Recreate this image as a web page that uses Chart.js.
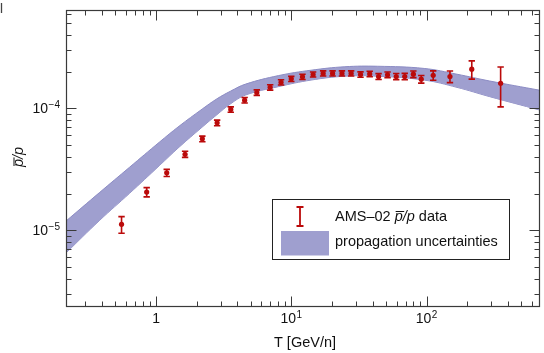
<!DOCTYPE html>
<html>
<head>
<meta charset="utf-8">
<script src="https://cdn.jsdelivr.net/npm/chart.js@4.4.0/dist/chart.umd.min.js"></script>
<style>
  html, body { margin: 0; padding: 0; background: #fff; }
  canvas { display: block; }
</style>
</head>
<body>
<canvas id="myChart" width="544" height="353"></canvas>
<script>
// ------------ data -------------

// AMS-02 antiproton / proton ratio
const energy = [0.556, 0.853, 1.20, 1.64, 2.20, 2.83, 3.57, 4.52, 5.56, 6.98,
  8.40, 10.0, 12.1, 14.5, 17.2, 20.2, 23.7, 27.7, 32.5, 38.0,
  44.2, 51.5, 59.7, 69.0, 79.9, 91.4, 112, 149, 216, 353];
const ratio = [1.12e-5, 2.06e-5, 2.96e-5, 4.21e-5, 5.63e-5, 7.62e-5, 9.81e-5, 1.17e-4, 1.35e-4, 1.49e-4,
  1.64e-4, 1.75e-4, 1.82e-4, 1.90e-4, 1.94e-4, 1.94e-4, 1.94e-4, 1.94e-4, 1.90e-4, 1.92e-4,
  1.83e-4, 1.89e-4, 1.83e-4, 1.83e-4, 1.91e-4, 1.74e-4, 1.87e-4, 1.83e-4, 2.10e-4, 1.61e-4];
const ratioErr = [0.175e-5, 0.18e-5, 0.2e-5, 0.24e-5, 0.3e-5, 0.4e-5, 0.5e-5, 0.6e-5, 0.7e-5, 0.75e-5,
  0.8e-5, 0.85e-5, 0.9e-5, 0.9e-5, 0.95e-5, 0.95e-5, 0.95e-5, 0.95e-5, 0.95e-5, 1.0e-5,
  1.0e-5, 1.0e-5, 1.05e-5, 1.1e-5, 1.2e-5, 1.25e-5, 1.65e-5, 2.0e-5, 3.6e-5, 5.8e-5];

// propagation uncertainty band
const bandEnergy = [0.216, 0.384, 0.637, 1.057, 1.48, 2.19, 2.82, 3.57, 4.60, 8.03, 14.0, 24.9, 43.5, 96.1, 168, 293, 690];
const bandHigh = [1.19e-5, 2.05e-5, 3.29e-5, 5.28e-5, 7.15e-5, 9.87e-5, 1.20e-4, 1.39e-4, 1.585e-4, 1.86e-4, 2.06e-4, 2.20e-4, 2.22e-4, 2.13e-4, 1.91e-4, 1.68e-4, 1.41e-4];
const bandLow = [6.51e-6, 1.21e-5, 2.01e-5, 3.39e-5, 4.81e-5, 7.02e-5, 8.89e-5, 1.095e-4, 1.29e-4, 1.51e-4, 1.71e-4, 1.84e-4, 1.84e-4, 1.71e-4, 1.49e-4, 1.25e-4, 9.69e-5];

// axes
const xMin = 0.216, xMax = 690;
const yMin = 2.39e-6, yMax = 6.43e-4;
const xTicks = [1, 10, 100];
const xTickLabels = [['1', ''], ['10', '1'], ['10', '2']];
const yTicks = [1e-5, 1e-4];
const yTickLabels = [['10', '\u22125'], ['10', '\u22124']];

const RED = '#bb0a0a';
const BAND = '#9f9fcf';
const BAND_EDGE = '#8c8cc4';
const FONT = "'Liberation Sans', Arial, sans-serif";

function minorTicks(lo, hi) {
  var out = [];
  for (var e = Math.floor(Math.log10(lo)); e <= Math.ceil(Math.log10(hi)); e++) {
    for (var m = 1; m <= 9; m++) {
      var v = m * Math.pow(10, e);
      if (v >= lo && v <= hi) out.push({ v: v, major: m == 1 });
    }
  }
  return out;
}

// --------- error bars, drawn just under the points
const errorBars = {
  id: 'errorBars',
  beforeDatasetDraw(chart, args) {
    if (args.index !== 0) return;
    var ctx = chart.ctx, xs = chart.scales.x, ys = chart.scales.y, a = chart.chartArea;
    ctx.save();
    ctx.beginPath();
    ctx.rect(a.left, a.top, a.right - a.left, a.bottom - a.top);
    ctx.clip();
    ctx.strokeStyle = RED;
    ctx.lineWidth = 1.6;
    for (var i = 0; i < energy.length; i++) {
      var px = xs.getPixelForValue(energy[i]);
      var y1 = ys.getPixelForValue(ratio[i] + ratioErr[i]);
      var y2 = ys.getPixelForValue(ratio[i] - ratioErr[i]);
      ctx.beginPath();
      ctx.moveTo(px, y1); ctx.lineTo(px, y2);
      ctx.moveTo(px - 3.2, y1); ctx.lineTo(px + 3.2, y1);
      ctx.moveTo(px - 3.2, y2); ctx.lineTo(px + 3.2, y2);
      ctx.stroke();
    }
    ctx.restore();
  }
};

// --------- frame, inward ticks, labels, titles, legend
function drawPow(ctx, base, exp, x, y, align) {
  ctx.font = '14px ' + FONT;
  var wb = ctx.measureText(base).width;
  ctx.font = '10px ' + FONT;
  var we = exp ? ctx.measureText(exp).width + 0.5 : 0;
  var w = wb + we;
  var x0 = align == 'right' ? x - w : x - w / 2;
  ctx.textAlign = 'left';
  ctx.textBaseline = 'alphabetic';
  ctx.font = '14px ' + FONT;
  ctx.fillText(base, x0, y);
  if (exp) {
    ctx.font = '10px ' + FONT;
    ctx.fillText(exp, x0 + wb + 0.5, y - 5);
  }
}

function drawPbarP(ctx, x, y, size) {
  // italic p with overline, slash, italic p
  ctx.font = 'italic ' + size + 'px ' + FONT;
  ctx.textAlign = 'left';
  ctx.textBaseline = 'alphabetic';
  var wp = ctx.measureText('p').width;
  ctx.fillText('p/p', x, y);
  ctx.lineWidth = 1;
  ctx.beginPath();
  ctx.moveTo(x + 1, y - size * 0.62);
  ctx.lineTo(x + wp + 1.5, y - size * 0.62);
  ctx.stroke();
  return ctx.measureText('p/p').width;
}

const frame = {
  id: 'frame',
  afterDraw(chart) {
    var ctx = chart.ctx, xs = chart.scales.x, ys = chart.scales.y, a = chart.chartArea;
    var L = Math.round(a.left) + 0.5, R = Math.round(a.right) - 0.5;
    var T = Math.round(a.top) + 0.5, B = Math.round(a.bottom) + 0.5;
    ctx.save();
    ctx.strokeStyle = '#3a3a3a';
    ctx.fillStyle = '#111';
    ctx.lineWidth = 1.2;
    ctx.strokeRect(L, T, R - L, B - T);

    ctx.lineWidth = 1;
    ctx.beginPath();
    minorTicks(xMin, xMax).forEach(function (t) {
      var px = Math.round(xs.getPixelForValue(t.v)) + 0.5;
      var len = t.major ? 10 : 5;
      ctx.moveTo(px, B); ctx.lineTo(px, B - len);
      ctx.moveTo(px, T); ctx.lineTo(px, T + len);
    });
    minorTicks(yMin, yMax).forEach(function (t) {
      var py = Math.round(ys.getPixelForValue(t.v)) + 0.5;
      var len = t.major ? 10 : 5;
      ctx.moveTo(L, py); ctx.lineTo(L + len, py);
      ctx.moveTo(R, py); ctx.lineTo(R - len, py);
    });
    ctx.stroke();

    // tick labels
    xTicks.forEach(function (v, i) {
      drawPow(ctx, xTickLabels[i][0], xTickLabels[i][1], xs.getPixelForValue(v), 323, 'center');
    });
    yTicks.forEach(function (v, i) {
      drawPow(ctx, yTickLabels[i][0], yTickLabels[i][1], 60, ys.getPixelForValue(v) + 5, 'right');
    });

    // axis titles
    ctx.font = '14.5px ' + FONT;
    ctx.textAlign = 'center';
    ctx.fillText('T [GeV/n]', 305, 347);
    ctx.save();
    ctx.translate(23, 157);
    ctx.rotate(-Math.PI / 2);
    ctx.strokeStyle = '#111';
    drawPbarP(ctx, -10, 0, 14.5);
    ctx.restore();

    // legend
    ctx.strokeStyle = '#222';
    ctx.lineWidth = 1;
    ctx.fillStyle = '#fff';
    ctx.fillRect(272.5, 199.5, 237, 60);
    ctx.strokeRect(272.5, 199.5, 237, 60);

    ctx.strokeStyle = RED;
    ctx.lineWidth = 1.8;
    ctx.beginPath();
    ctx.moveTo(300, 207); ctx.lineTo(300, 226);
    ctx.moveTo(296.5, 207); ctx.lineTo(303.5, 207);
    ctx.moveTo(296.5, 226); ctx.lineTo(303.5, 226);
    ctx.stroke();

    ctx.fillStyle = BAND;
    ctx.fillRect(281, 231, 48, 24.5);

    ctx.fillStyle = '#111';
    ctx.strokeStyle = '#111';
    ctx.textAlign = 'left';
    ctx.font = '14.5px ' + FONT;
    var tx = 335;
    ctx.fillText('AMS\u201302 ', tx, 220.5);
    tx += ctx.measureText('AMS\u201302 ').width;
    tx += drawPbarP(ctx, tx, 220.5, 14.5);
    ctx.font = '14.5px ' + FONT;
    ctx.fillText(' data', tx, 220.5);
    ctx.fillText('propagation uncertainties', 335, 246);

    // stray mark at the top-left corner of the original figure
    ctx.strokeStyle = '#444';
    ctx.lineWidth = 1.3;
    ctx.beginPath();
    ctx.moveTo(1.5, 3); ctx.lineTo(1.5, 13);
    ctx.stroke();
    ctx.restore();
  }
};

const data = {
  datasets: [{
    label: 'AMS-02 pbar/p data',
    data: energy.map(function (e, i) { return { x: e, y: ratio[i] }; }),
    showLine: false,
    pointRadius: 2.6,
    pointBorderWidth: 0,
    backgroundColor: RED,
    borderColor: RED
  },
  {
    label: 'propagation uncertainties',
    data: bandEnergy.map(function (e, i) { return { x: e, y: bandHigh[i] }; }),
    fill: '+1',
    backgroundColor: BAND,
    borderColor: BAND_EDGE,
    borderWidth: 1,
    pointRadius: 0,
    tension: 0.4
  },
  {
    label: 'band low',
    data: bandEnergy.map(function (e, i) { return { x: e, y: bandLow[i] }; }),
    fill: false,
    borderColor: BAND_EDGE,
    borderWidth: 1,
    pointRadius: 0,
    tension: 0.4
  }]
};

const config = {
  type: 'line',
  data: data,
  options: {
    responsive: false,
    animation: false,
    devicePixelRatio: 1,
    layout: { padding: { left: 0, right: 1, top: 10, bottom: 0 } },
    plugins: { legend: { display: false }, tooltip: { enabled: false } },
    scales: {
      x: {
        type: 'logarithmic', min: xMin, max: xMax,
        ticks: { display: false }, grid: { display: false }, border: { display: false },
        afterFit: function (s) { s.height = 47; }
      },
      y: {
        type: 'logarithmic', min: yMin, max: yMax,
        ticks: { display: false }, grid: { display: false }, border: { display: false },
        afterFit: function (s) { s.width = 66; }
      }
    }
  },
  plugins: [errorBars, frame]
};

var myChart = new Chart(document.getElementById('myChart'), config);
</script>
</body>
</html>
